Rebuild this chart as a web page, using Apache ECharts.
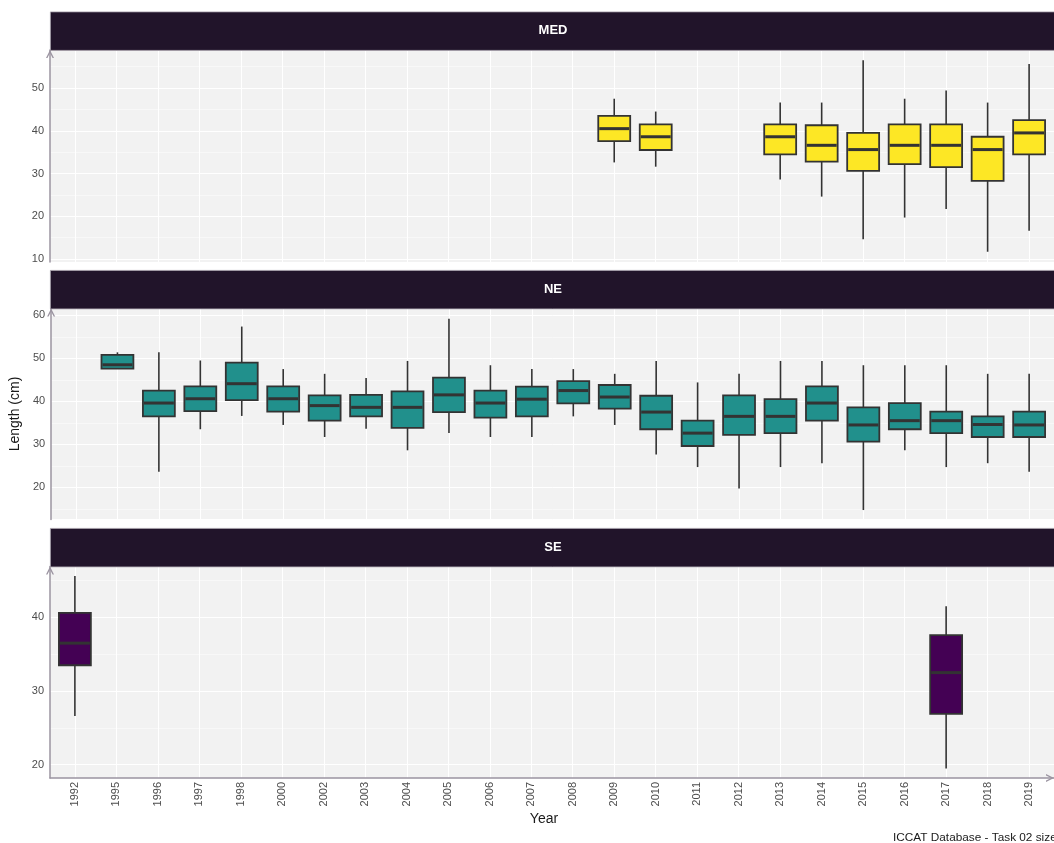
<!DOCTYPE html>
<html>
<head>
<meta charset="utf-8">
<script src="https://cdn.jsdelivr.net/npm/echarts@6/dist/echarts.min.js"></script>
<style>
html,body{margin:0;padding:0;background:#fff;}
#chart{width:1054px;height:843px;}
</style>
</head>
<body>
<div id="chart"></div>
<script>
// Categories on the x axis
const categories = ['1992','1995','1996','1997','1998','2000','2002','2003','2004','2005','2006','2007','2008','2009','2010','2011','2012','2013','2014','2015','2016','2017','2018','2019'];

// Box statistics: [year, min, Q1, median, Q3, max]
const medStats = [
  ['2009', 32.6, 37.6, 40.5, 43.5, 47.5],
  ['2010', 31.6, 35.5, 38.6, 41.5, 44.5],
  ['2013', 28.6, 34.5, 38.6, 41.5, 46.6],
  ['2014', 24.6, 32.8, 36.6, 41.3, 46.6],
  ['2015', 14.6, 30.6, 35.6, 39.5, 56.5],
  ['2016', 19.7, 32.2, 36.6, 41.5, 47.5],
  ['2017', 21.7, 31.5, 36.6, 41.5, 49.4],
  ['2018', 11.7, 28.3, 35.6, 38.6, 46.6],
  ['2019', 16.6, 34.5, 39.5, 42.5, 55.6]
];
const neStats = [
  ['1995', 47.6, 47.6, 48.5, 50.8, 51.4],
  ['1996', 23.6, 36.5, 39.6, 42.5, 51.4],
  ['1997', 33.5, 37.7, 40.6, 43.5, 49.5],
  ['1998', 36.6, 40.3, 44.1, 49.0, 57.4],
  ['2000', 34.5, 37.6, 40.6, 43.5, 47.5],
  ['2002', 31.7, 35.5, 39.0, 41.4, 46.4],
  ['2003', 33.6, 36.5, 38.6, 41.5, 45.4],
  ['2004', 28.6, 33.8, 38.6, 42.3, 49.4],
  ['2005', 32.6, 37.5, 41.5, 45.5, 59.2],
  ['2006', 31.7, 36.2, 39.6, 42.5, 48.4],
  ['2007', 31.7, 36.5, 40.5, 43.4, 47.5],
  ['2008', 36.5, 39.5, 42.5, 44.7, 47.5],
  ['2009', 34.5, 38.3, 41.0, 43.8, 46.4],
  ['2010', 27.6, 33.5, 37.5, 41.3, 49.4],
  ['2011', 24.7, 29.6, 32.6, 35.5, 44.4],
  ['2012', 19.7, 32.2, 36.5, 41.4, 46.4],
  ['2013', 24.7, 32.6, 36.5, 40.5, 49.4],
  ['2014', 25.6, 35.5, 39.6, 43.5, 49.4],
  ['2015', 14.7, 30.6, 34.5, 38.6, 48.4],
  ['2016', 28.6, 33.5, 35.5, 39.6, 48.4],
  ['2017', 24.7, 32.6, 35.5, 37.6, 48.4],
  ['2018', 25.6, 31.7, 34.6, 36.5, 46.4],
  ['2019', 23.6, 31.7, 34.5, 37.6, 46.4]
];
const seStats = [
  ['1992', 26.6, 33.5, 36.5, 40.6, 45.6],
  ['2017', 19.5, 26.9, 32.5, 37.6, 41.5]
];
const panelNames = ['MED', 'NE', 'SE'];
const panelColors = ['#fde725', '#21908c', '#440154'];

function toData(stats) {
  return stats.map(s => [categories.indexOf(s[0]), s[1], s[2], s[3], s[4], s[5]]);
}
const tickIdx = categories.map((c, i) => i);

const chart = echarts.init(document.getElementById('chart'));

const panels = [
  {top: 50, height: 212, min: 9.3, max: 58.9, split: 5},
  {top: 308.5, height: 211, min: 12.5, max: 61.6, split: 5},
  {top: 566.5, height: 211.5, min: 18.2, max: 46.9, split: 3}
];
const stripH = 38.5;
const axisGray = '#9b94a1';
const arrow = 'path://M0,10 L5,0 L10,10 L8.2,10 L5,3.6 L1.8,10 Z';

function renderBox(params, api) {
  const x = api.value(0);
  const pMin = api.coord([x, api.value(1)]);
  const pQ1 = api.coord([x, api.value(2)]);
  const pMed = api.coord([x, api.value(3)]);
  const pQ3 = api.coord([x, api.value(4)]);
  const pMax = api.coord([x, api.value(5)]);
  const w = api.size([1, 0])[0] * 0.77;
  const line = {stroke: '#333333', lineWidth: 1.6};
  return {
    type: 'group',
    children: [
      {type: 'line', shape: {x1: pMin[0], y1: pMin[1], x2: pQ1[0], y2: pQ1[1]}, style: line},
      {type: 'line', shape: {x1: pQ3[0], y1: pQ3[1], x2: pMax[0], y2: pMax[1]}, style: line},
      {type: 'rect', shape: {x: pQ3[0] - w / 2, y: pQ3[1], width: w, height: pQ1[1] - pQ3[1]},
        style: {fill: api.visual('color'), stroke: '#333333', lineWidth: 1.8}},
      {type: 'line', shape: {x1: pMed[0] - w / 2 + 1, y1: pMed[1], x2: pMed[0] + w / 2 - 1, y2: pMed[1]},
        style: {stroke: '#333333', lineWidth: 3}}
    ]
  };
}

const grids = [], xAxes = [], yAxes = [], series = [], graphics = [];
const allStats = [medStats, neStats, seStats];

panels.forEach((p, i) => {
  grids.push({left: 50, width: 1007, top: p.top, height: p.height,
    show: true, backgroundColor: '#f2f2f2', borderWidth: 0, containLabel: false});
  const isLast = i === panels.length - 1;
  xAxes.push({
    type: 'value', gridIndex: i, min: -0.6, max: 23.6,
    axisLine: {show: isLast, onZero: false, lineStyle: {color: axisGray, width: 1.5},
      symbol: ['none', arrow], symbolSize: [11, 8], symbolOffset: [0, -4]},
    axisTick: {show: false, customValues: tickIdx},
    axisLabel: {show: isLast, customValues: tickIdx, rotate: 90, margin: 4,
      color: '#4d4d4d', fontSize: 11, fontFamily: 'Liberation Sans',
      formatter: v => categories[Math.round(v)]},
    splitLine: {show: true, lineStyle: {color: '#ffffff', width: 1}},
    name: isLast ? 'Year' : '', nameLocation: 'middle', nameGap: 34,
    nameTextStyle: {color: '#1a1a1a', fontSize: 14, fontFamily: 'Liberation Sans', padding: [0, 16, 0, 0]}
  });
  yAxes.push({
    type: 'value', gridIndex: i, min: p.min, max: p.max, splitNumber: p.split,
    axisLine: {show: true, onZero: false, lineStyle: {color: axisGray, width: 1.5},
      symbol: ['none', arrow], symbolSize: [11, 8], symbolOffset: [0, -4]},
    axisTick: {show: false},
    axisLabel: {showMinLabel: false, showMaxLabel: false, color: '#4d4d4d', fontSize: 11,
      fontFamily: 'Liberation Sans', margin: 6},
    splitLine: {show: true, lineStyle: {color: '#ffffff', width: 1}},
    minorTick: {show: false, splitNumber: 2},
    minorSplitLine: {show: true, lineStyle: {color: '#f8f8f8', width: 1}},
    name: i === 1 ? 'Length (cm)' : '', nameLocation: 'middle', nameGap: 22,
    nameTextStyle: {color: '#1a1a1a', fontSize: 14, fontFamily: 'Liberation Sans'}
  });
  series.push({
    type: 'custom', name: panelNames[i], xAxisIndex: i, yAxisIndex: i,
    renderItem: renderBox, itemStyle: {color: panelColors[i]},
    encode: {x: 0, y: [1, 2, 3, 4, 5]},
    data: toData(allStats[i]), clip: false
  });
  graphics.push({type: 'rect', left: 50, top: p.top - stripH, z: 10,
    shape: {width: 1010, height: stripH},
    style: {fill: '#21142a', stroke: '#a9a3ad', lineWidth: 0.8}});
  graphics.push({type: 'text', x: 553, y: p.top - stripH / 2, z: 11,
    style: {text: panelNames[i], fill: '#ffffff', font: 'bold 13px "Liberation Sans"',
      align: 'center', verticalAlign: 'middle'}});
});

graphics.push({type: 'text', x: 893, y: 838, z: 11,
  style: {text: 'ICCAT Database - Task 02 size samples', fill: '#1a1a1a',
    font: '11.8px "Liberation Sans"', align: 'left', verticalAlign: 'middle'}});

chart.setOption({
  animation: false,
  backgroundColor: '#ffffff',
  grid: grids,
  xAxis: xAxes,
  yAxis: yAxes,
  series: series,
  graphic: graphics
});
</script>
</body>
</html>
